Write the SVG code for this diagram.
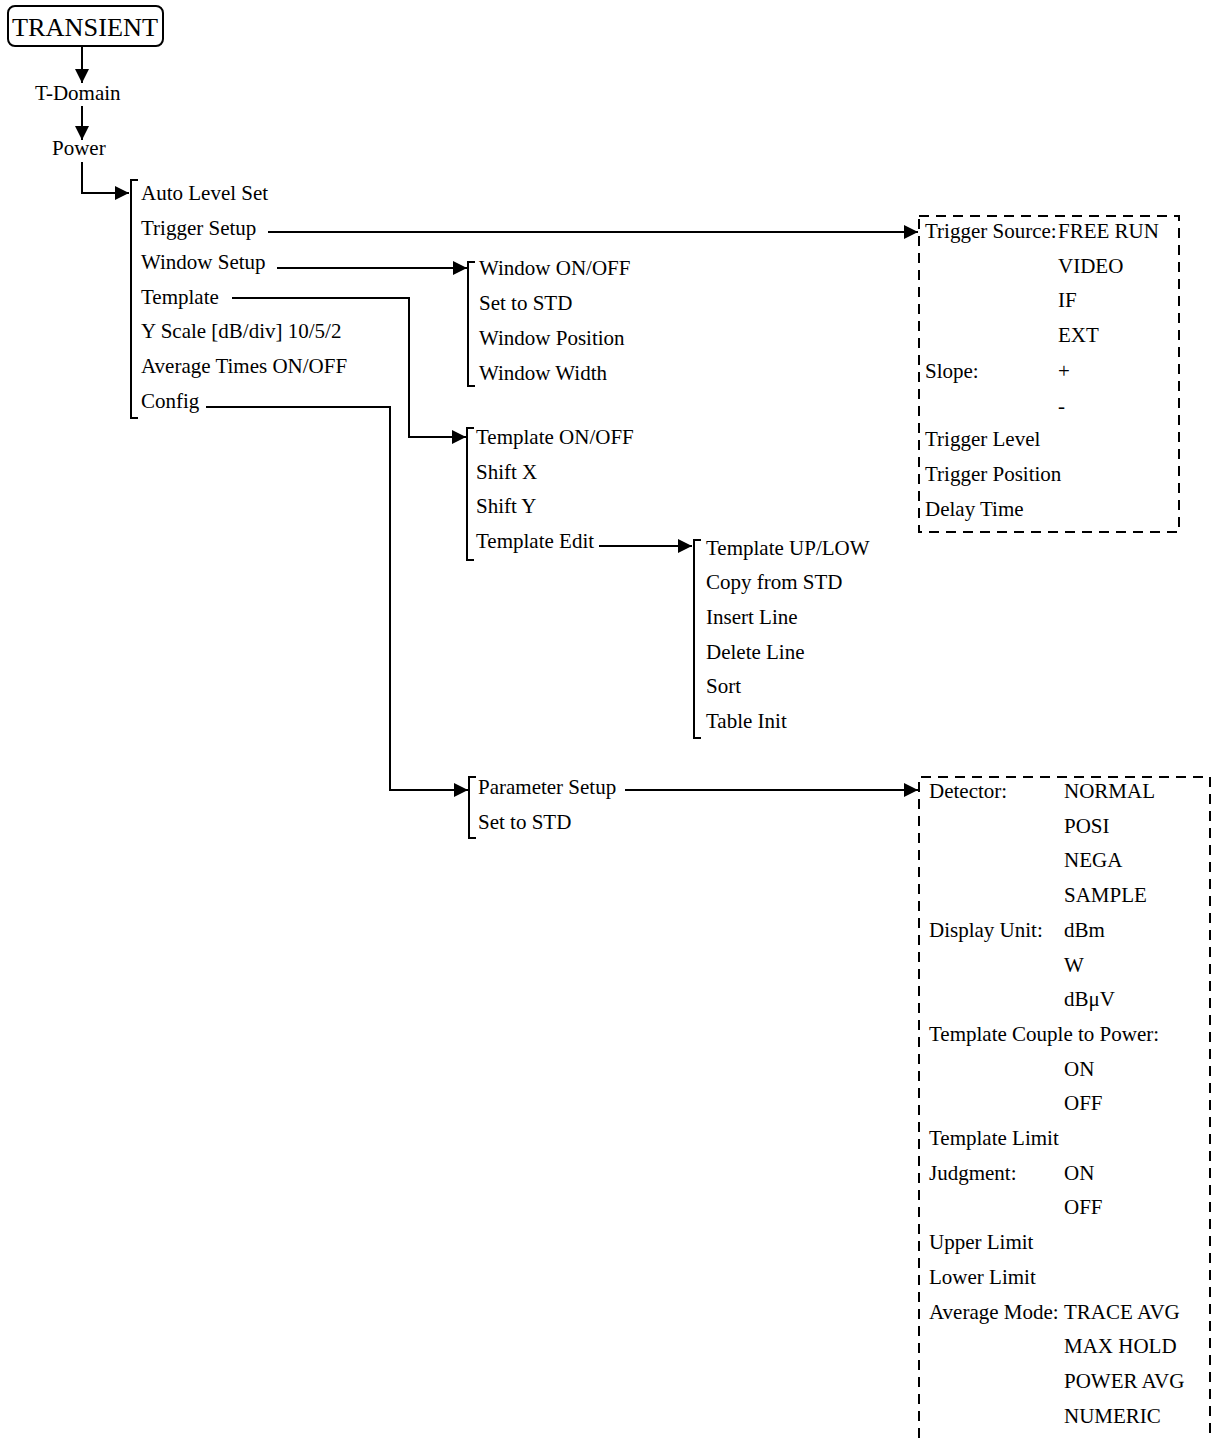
<svg xmlns="http://www.w3.org/2000/svg" width="1211" height="1438" viewBox="0 0 1211 1438">
<style>
text{font-family:"Liberation Serif","Times New Roman",serif;font-size:21px;fill:#000}
.c{fill:none;stroke:#000;stroke-width:2}
.b{fill:none;stroke:#000;stroke-width:2}
.d{fill:none;stroke:#000;stroke-width:2;stroke-dasharray:10 7}
</style>
<defs>
<marker id="ah" markerUnits="userSpaceOnUse" markerWidth="16" markerHeight="16" refX="14" refY="7" orient="auto">
<path d="M0,0 L14,7 L0,14 z" fill="#000"/>
</marker>
</defs>
<rect width="1211" height="1438" fill="#fff"/>
<g id="connectors">
<path class="c" d="M82,46 V83" marker-end="url(#ah)"/>
<path class="c" d="M82,106 V140" marker-end="url(#ah)"/>
<path class="c" d="M82,162 V193 H129" marker-end="url(#ah)"/>
<path class="c" d="M268,232 H918" marker-end="url(#ah)"/>
<path class="c" d="M277,268 H467" marker-end="url(#ah)"/>
<path class="c" d="M232,298 H409 V437 H466" marker-end="url(#ah)"/>
<path class="c" d="M206,407 H390 V790 H468" marker-end="url(#ah)"/>
<path class="c" d="M599,546 H692" marker-end="url(#ah)"/>
<path class="c" d="M625,790 H918" marker-end="url(#ah)"/>
</g>
<g id="transient">
<rect x="8" y="6" width="155" height="40" rx="7" fill="none" stroke="#000" stroke-width="2"/>
<text x="12" y="36" style="font-size:26px" textLength="146" lengthAdjust="spacingAndGlyphs">TRANSIENT</text>
</g>
<g id="t-domain"><text x="35" y="100">T-Domain</text></g>
<g id="power"><text x="52" y="155">Power</text></g>
<g id="main-menu">
<path class="b" d="M138,180 H131 V418 H138"/>
<text x="141" y="200">Auto Level Set</text>
<text x="141" y="234.6">Trigger Setup</text>
<text x="141" y="269.2">Window Setup</text>
<text x="141" y="303.8">Template</text>
<text x="141" y="338.4">Y Scale [dB/div] 10/5/2</text>
<text x="141" y="373">Average Times ON/OFF</text>
<text x="141" y="407.6">Config</text>
</g>
<g id="window-menu">
<path class="b" d="M475,262 H468 V386 H475"/>
<text x="479" y="275">Window ON/OFF</text>
<text x="479" y="310">Set to STD</text>
<text x="479" y="345">Window Position</text>
<text x="479" y="380">Window Width</text>
</g>
<g id="template-menu">
<path class="b" d="M474,428 H467 V560 H474"/>
<text x="476" y="444">Template ON/OFF</text>
<text x="476" y="479">Shift X</text>
<text x="476" y="513">Shift Y</text>
<text x="476" y="548">Template Edit</text>
</g>
<g id="template-edit-menu">
<path class="b" d="M701,540 H694 V738 H701"/>
<text x="706" y="555">Template UP/LOW</text>
<text x="706" y="589">Copy from STD</text>
<text x="706" y="624">Insert Line</text>
<text x="706" y="659">Delete Line</text>
<text x="706" y="693">Sort</text>
<text x="706" y="728">Table Init</text>
</g>
<g id="config-menu">
<path class="b" d="M476,777 H469 V838 H476"/>
<text x="478" y="794">Parameter Setup</text>
<text x="478" y="829">Set to STD</text>
</g>
<g id="trigger-setup">
<rect class="d" x="919" y="216" width="260" height="316"/>
<text x="925" y="238">Trigger Source:</text>
<text x="1058" y="238">FREE RUN</text>
<text x="1058" y="273">VIDEO</text>
<text x="1058" y="307">IF</text>
<text x="1058" y="342">EXT</text>
<text x="925" y="378">Slope:</text>
<text x="1058" y="378">+</text>
<text x="1058" y="413">-</text>
<text x="925" y="446">Trigger Level</text>
<text x="925" y="481">Trigger Position</text>
<text x="925" y="516">Delay Time</text>
</g>
<g id="parameter-setup">
<path class="d" d="M919,1438 V777 H1210 V1438"/>
<text x="929" y="798">Detector:</text>
<text x="1064" y="798">NORMAL</text>
<text x="1064" y="832.7">POSI</text>
<text x="1064" y="867.4">NEGA</text>
<text x="1064" y="902.1">SAMPLE</text>
<text x="929" y="936.8">Display Unit:</text>
<text x="1064" y="936.8">dBm</text>
<text x="1064" y="971.5">W</text>
<text x="1064" y="1006.2">dBμV</text>
<text x="929" y="1040.9">Template Couple to Power:</text>
<text x="1064" y="1075.6">ON</text>
<text x="1064" y="1110.3">OFF</text>
<text x="929" y="1145">Template Limit</text>
<text x="929" y="1179.7">Judgment:</text>
<text x="1064" y="1179.7">ON</text>
<text x="1064" y="1214.4">OFF</text>
<text x="929" y="1249.1">Upper Limit</text>
<text x="929" y="1283.8">Lower Limit</text>
<text x="929" y="1318.5">Average Mode:</text>
<text x="1064" y="1318.5">TRACE AVG</text>
<text x="1064" y="1353.2">MAX HOLD</text>
<text x="1064" y="1387.9">POWER AVG</text>
<text x="1064" y="1422.6">NUMERIC</text>
</g>
</svg>
